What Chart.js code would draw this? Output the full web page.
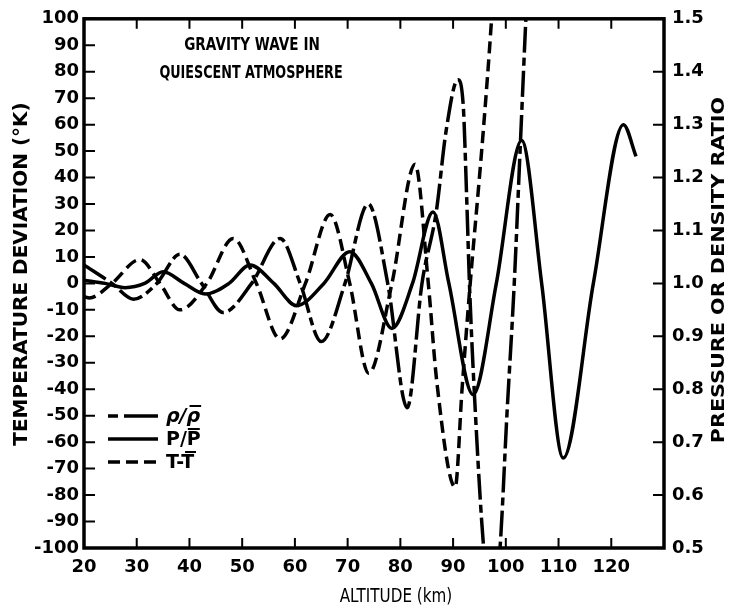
<!DOCTYPE html>
<html>
<head>
<meta charset="utf-8">
<script src="https://cdn.jsdelivr.net/npm/chart.js@4/dist/chart.umd.min.js"></script>
<style>
  html, body { margin: 0; padding: 0; background: #fff; }
</style>
</head>
<body>
<canvas id="waveChart" width="731" height="613"></canvas>
<script>
// --- values ---
// T - Tbar (K), left axis
const altTemp = [20, 21, 25.3, 30.6, 34.4, 38.2, 43.3, 48.3, 52.7, 57.2, 62, 66.7, 70.4, 74, 78.4, 82.8, 85.3, 86.9, 90.4, 91.7, 93.0, 95.7, 97.3, 98.2];
const tempDev = [-5, -5.5, 0, 9, 0, -10, 0, 17, 0, -21, 0, 26, 0, -34, 0, 45, 0, -37, -77, -40, -6, 57, 100, 130];

// P / Pbar, right axis
const altPres = [20, 24, 27.8, 31.5, 35, 39, 43, 47.5, 51.5, 56, 60.3, 65.5, 70.4, 74.5, 78.4, 82.3, 86.2, 89.2, 93.8, 98.2, 103, 106.8, 110.9, 116.6, 122.3, 124.7];
const presRatio = [1.006, 1.0, 0.992, 1.0, 1.022, 1.0, 0.98, 1.0, 1.035, 1.0, 0.958, 1.0, 1.06, 1.0, 0.915, 1.0, 1.135, 1.0, 0.79, 1.0, 1.27, 1.0, 0.67, 1.0, 1.30, 1.24];

// rho / rhobar, right axis
const altDens = [20, 25.3, 29.4, 33.8, 38.2, 42.3, 46.4, 51.8, 57.2, 61, 65, 69.5, 73.9, 77.6, 81.3, 84.1, 86.8, 88.7, 90.9, 91.9, 92.6, 93.1, 94.1, 95.8, 97.4, 98.9, 100.2, 101.6, 102.7, 103.8, 104.5];
const densRatio = [1.035, 1.0, 0.97, 1.0, 1.055, 1.0, 0.945, 1.0, 1.085, 1.0, 0.89, 1.0, 1.15, 1.0, 0.765, 1.0, 1.135, 1.29, 1.385, 1.34, 1.155, 1.0, 0.78, 0.5, 0.375, 0.5, 0.75, 1.0, 1.25, 1.5, 1.65];

// tick labels
const altTicks = [20, 30, 40, 50, 60, 70, 80, 90, 100, 110, 120, 130];
const tempTicks = [-100, -90, -80, -70, -60, -50, -40, -30, -20, -10, 0, 10, 20, 30, 40, 50, 60, 70, 80, 90, 100];
const ratioTicks = [0.5, 0.6, 0.7, 0.8, 0.9, 1.0, 1.1, 1.2, 1.3, 1.4, 1.5];

// legend: text before the barred symbol, barred symbol
const legendItems = [
  { head: 'ρ/', bar: 'ρ', dash: [10, 6, 34, 0], italic: true },
  { head: 'P/', bar: 'P', dash: [], italic: false },
  { head: 'T-', bar: 'T', dash: [12, 6], italic: false }
];

function pts(xs, ys) {
  return xs.map((x, i) => ({ x: x, y: ys[i] }));
}

const tickFont = { family: 'DejaVu Sans', size: 18, weight: 'bold' };

// narrow lettering like the original figure
function narrowText(ctx, txt, x, y, sx) {
  ctx.save();
  ctx.translate(x, y);
  ctx.scale(sx, 1);
  ctx.fillText(txt, 0, 0);
  ctx.restore();
}

// frame, inward ticks, titles, legend
const decoPlugin = {
  id: 'deco',
  afterDraw(chart) {
    const ctx = chart.ctx;
    const a = chart.chartArea;
    const sx = chart.scales.x, sy = chart.scales.y, sy1 = chart.scales.y1;
    ctx.save();
    ctx.strokeStyle = '#000';
    ctx.fillStyle = '#000';
    ctx.setLineDash([]);
    ctx.lineWidth = 3.5;
    ctx.strokeRect(a.left, a.top, a.right - a.left, a.bottom - a.top);

    ctx.lineWidth = 2;
    ctx.beginPath();
    tempTicks.forEach(v => {
      const y = sy.getPixelForValue(v);
      ctx.moveTo(a.left, y); ctx.lineTo(a.left + 11, y);
    });
    ratioTicks.forEach(v => {
      const y = sy1.getPixelForValue(v);
      ctx.moveTo(a.right, y); ctx.lineTo(a.right - 11, y);
    });
    altTicks.forEach(v => {
      const x = sx.getPixelForValue(v);
      ctx.moveTo(x, a.bottom); ctx.lineTo(x, a.bottom - 10);
      ctx.moveTo(x, a.top); ctx.lineTo(x, a.top + 10);
    });
    ctx.stroke();

    // axis titles
    ctx.textAlign = 'center';
    ctx.textBaseline = 'middle';
    ctx.font = 'bold 20px "DejaVu Sans"';
    ctx.save();
    ctx.translate(22, 274);
    ctx.rotate(-Math.PI / 2);
    ctx.fillText('TEMPERATURE DEVIATION (°K)', 0, 0);
    ctx.restore();
    ctx.font = 'bold 18px "DejaVu Sans"';
    ctx.save();
    ctx.translate(719, 270);
    ctx.rotate(-Math.PI / 2);
    ctx.scale(1.15, 1);
    ctx.fillText('PRESSURE OR DENSITY RATIO', 0, 0);
    ctx.restore();
    ctx.font = '19px "DejaVu Sans"';
    narrowText(ctx, 'ALTITUDE (km)', 396, 597, 0.8);

    // note
    ctx.font = 'bold 17px "DejaVu Sans"';
    narrowText(ctx, 'GRAVITY WAVE IN', 252, 46, 0.8);
    narrowText(ctx, 'QUIESCENT ATMOSPHERE', 251, 74, 0.75);

    // legend
    ctx.lineWidth = 3.5;
    ctx.textAlign = 'left';
    legendItems.forEach((it, i) => {
      const y = 416 + i * 23;
      ctx.setLineDash(it.dash);
      ctx.beginPath();
      ctx.moveTo(108, y); ctx.lineTo(158, y);
      ctx.stroke();
      ctx.setLineDash([]);
      ctx.font = (it.italic ? 'italic ' : '') + 'bold 19px "DejaVu Sans"';
      const w1 = ctx.measureText(it.head).width;
      const w2 = ctx.measureText(it.bar).width;
      ctx.fillText(it.head + it.bar, 166, y + 1);
      ctx.lineWidth = 2;
      ctx.beginPath();
      const bx = 166 + w1 + (it.italic ? 2 : 0);
      ctx.moveTo(bx + 1, y - 10); ctx.lineTo(bx + w2 - 1, y - 10);
      ctx.stroke();
      ctx.lineWidth = 3.5;
    });
    ctx.restore();
  }
};

new Chart(document.getElementById('waveChart'), {
  type: 'line',
  data: {
    datasets: [
      {
        label: 'ρ/ρ̄',
        data: pts(altDens, densRatio),
        yAxisID: 'y1',
        borderColor: '#000',
        borderWidth: 3.5,
        borderDash: [26, 5, 8, 5],
        pointRadius: 0,
        cubicInterpolationMode: 'monotone'
      },
      {
        label: 'P/P̄',
        data: pts(altPres, presRatio),
        yAxisID: 'y1',
        borderColor: '#000',
        borderWidth: 3.5,
        pointRadius: 0,
        cubicInterpolationMode: 'monotone'
      },
      {
        label: 'T-T̄',
        data: pts(altTemp, tempDev),
        yAxisID: 'y',
        borderColor: '#000',
        borderWidth: 3.5,
        borderDash: [12, 6],
        pointRadius: 0,
        cubicInterpolationMode: 'monotone'
      }
    ]
  },
  options: {
    responsive: false,
    animation: false,
    layout: { padding: { top: 18, left: 0, right: 0, bottom: 0 } },
    plugins: { legend: { display: false }, tooltip: { enabled: false } },
    scales: {
      x: {
        type: 'linear',
        min: 20,
        max: 130,
        afterFit: s => { s.height = 65; },
        afterBuildTicks: s => { s.ticks = altTicks.map(v => ({ value: v })); },
        grid: { display: false, drawTicks: false },
        border: { display: false },
        ticks: {
          color: '#000',
          font: tickFont,
          padding: 9,
          maxRotation: 0,
          autoSkip: false,
          callback: v => (v === 130 ? '' : v)
        }
      },
      y: {
        position: 'left',
        min: -100,
        max: 100,
        afterFit: s => { s.width = 84; },
        afterBuildTicks: s => { s.ticks = tempTicks.map(v => ({ value: v })); },
        grid: { display: false, drawTicks: false },
        border: { display: false },
        ticks: { color: '#000', font: tickFont, padding: 5, autoSkip: false }
      },
      y1: {
        position: 'right',
        min: 0.5,
        max: 1.5,
        afterFit: s => { s.width = 67; },
        afterBuildTicks: s => { s.ticks = ratioTicks.map(v => ({ value: v })); },
        grid: { display: false, drawTicks: false },
        border: { display: false },
        ticks: { color: '#000', font: tickFont, padding: 8, autoSkip: false, callback: v => v.toFixed(1) }
      }
    }
  },
  plugins: [decoPlugin]
});
</script>
</body>
</html>
